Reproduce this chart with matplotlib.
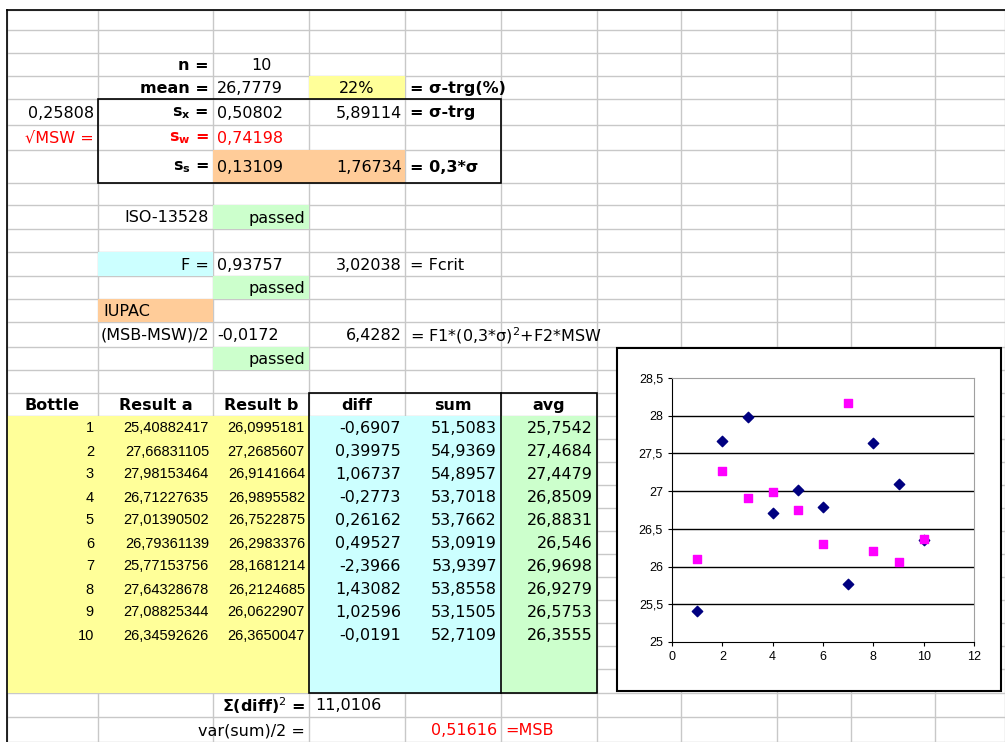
import matplotlib
matplotlib.use('Agg')
import matplotlib.pyplot as plt
from matplotlib.patches import Rectangle

# ---------------- data ----------------
bottles = [1, 2, 3, 4, 5, 6, 7, 8, 9, 10]
result_a = [25.40882417, 27.66831105, 27.98153464, 26.71227635, 27.01390502,
            26.79361139, 25.77153756, 27.64328678, 27.08825344, 26.34592626]
result_b = [26.0995181, 27.2685607, 26.9141664, 26.9895582, 26.7522875,
            26.2983376, 28.1681214, 26.2124685, 26.0622907, 26.3650047]
diff_txt = ['-0,6907', '0,39975', '1,06737', '-0,2773', '0,26162',
            '0,49527', '-2,3966', '1,43082', '1,02596', '-0,0191']
sum_txt = ['51,5083', '54,9369', '54,8957', '53,7018', '53,7662',
           '53,0919', '53,9397', '53,8558', '53,1505', '52,7109']
avg_txt = ['25,7542', '27,4684', '27,4479', '26,8509', '26,8831',
           '26,546', '26,9698', '26,9279', '26,5753', '26,3555']
y_ticks = [25, 25.5, 26, 26.5, 27, 27.5, 28, 28.5]
x_ticks = [0, 2, 4, 6, 8, 10, 12]

W, H = 1005, 742
cols = [7, 98, 213, 309, 405, 501, 597, 681, 777, 851, 935, 1005]
rows = [10, 30, 53, 76, 99, 125, 150, 183, 205, 229, 252, 276, 299, 322, 347,
        370, 393, 416, 439, 462, 485, 508, 531, 554, 577, 600, 623, 646, 669,
        693, 717, 742]

YEL, ORA, GRN, CYA = '#FFFF99', '#FFCC99', '#CCFFCC', '#CCFFFF'
RED = '#FF0000'
FONT = 'DejaVu Sans'
NARROW = ['Liberation Sans Narrow', 'Liberation Sans']

fig = plt.figure(figsize=(W / 100, H / 100), dpi=100)
ax = fig.add_axes([0, 0, 1, 1])
ax.set_xlim(0, W)
ax.set_ylim(H, 0)
ax.axis('off')


def fill(c0, c1, r0, r1, color):
    ax.add_patch(Rectangle((cols[c0], rows[r0]), cols[c1] - cols[c0],
                           rows[r1] - rows[r0], fc=color, ec='none', zorder=1))


def cy(r):
    return (rows[r] + rows[r + 1]) / 2


def txt(x, r, s, ha='left', color='black', bold=False, size=11.5, family=FONT):
    ax.text(x, cy(r) + 1, s, ha=ha, va='center', color=color, fontsize=size,
            fontweight='bold' if bold else 'normal', family=family, zorder=5)


# grid lines
for x in cols:
    ax.plot([x, x], [rows[0], H], color='#C8C8C8', lw=1, zorder=0)
for y in rows:
    ax.plot([cols[0], W], [y, y], color='#C8C8C8', lw=1, zorder=0)

# fills
fill(3, 4, 3, 4, YEL)
fill(2, 4, 6, 7, ORA)
fill(2, 3, 8, 9, GRN)
fill(1, 2, 10, 11, CYA)
fill(2, 3, 11, 12, GRN)
fill(1, 2, 12, 13, ORA)
fill(2, 3, 14, 15, GRN)
fill(0, 3, 17, 29, YEL)
fill(3, 5, 17, 29, CYA)
fill(5, 6, 17, 29, GRN)

# black borders
k = dict(color='black', lw=1.2, zorder=3)
ax.plot([cols[0], W], [rows[0], rows[0]], **k)
ax.plot([cols[0], cols[0]], [rows[0], H], **k)
ax.add_patch(Rectangle((cols[1], rows[4]), cols[5] - cols[1], rows[7] - rows[4],
                       fc='none', ec='black', lw=1.2, zorder=3))
ax.add_patch(Rectangle((cols[3], rows[16]), cols[6] - cols[3], rows[29] - rows[16],
                       fc='none', ec='black', lw=1.2, zorder=3))
ax.plot([cols[5], cols[5]], [rows[16], rows[29]], **k)

# upper block
txt(209, 2, 'n =', 'right', bold=True)
txt(261, 2, '10', 'center')
txt(209, 3, 'mean =', 'right', bold=True)
txt(217, 3, '26,7779')
txt(357, 3, '22%', 'center')
txt(410, 3, '= σ-trg(%)', bold=True)
txt(94, 4, '0,25808', 'right')
txt(209, 4, r'$\mathbf{s_x}$ =', 'right', bold=True)
txt(217, 4, '0,50802')
txt(402, 4, '5,89114', 'right')
txt(410, 4, '= σ-trg', bold=True)
txt(94, 5, '√MSW =', 'right', color=RED)
txt(209, 5, r'$\mathbf{s_w}$ =', 'right', color=RED, bold=True)
txt(217, 5, '0,74198', color=RED)
txt(209, 6, r'$\mathbf{s_s}$ =', 'right', bold=True)
txt(217, 6, '0,13109')
txt(402, 6, '1,76734', 'right')
txt(410, 6, '= 0,3*σ', bold=True)
txt(209, 8, 'ISO-13528', 'right')
txt(305, 8, 'passed', 'right')
txt(209, 10, 'F =', 'right')
txt(217, 10, '0,93757')
txt(402, 10, '3,02038', 'right')
txt(410, 10, '= Fcrit')
txt(305, 11, 'passed', 'right')
txt(103, 12, 'IUPAC')
txt(209, 13, '(MSB-MSW)/2', 'right')
txt(217, 13, '-0,0172')
txt(402, 13, '6,4282', 'right')
txt(410, 13, '= F1*(0,3*σ)$^2$+F2*MSW')
txt(305, 14, 'passed', 'right')

# table
heads = ['Bottle', 'Result a', 'Result b', 'diff', 'sum', 'avg']
for i, h in enumerate(heads):
    txt((cols[i] + cols[i + 1]) / 2, 16, h, 'center', bold=True)
for i in range(len(bottles)):
    r = 17 + i
    txt(94, r, str(bottles[i]), 'right', size=10.5, family=NARROW)
    txt(209, r, f'{result_a[i]:.8f}'.replace('.', ','), 'right', size=10.5, family=NARROW)
    txt(305, r, f'{result_b[i]:.7f}'.replace('.', ','), 'right', size=10.5, family=NARROW)
    txt(401, r, diff_txt[i], 'right')
    txt(497, r, sum_txt[i], 'right')
    txt(593, r, avg_txt[i], 'right')
txt(305, 29, 'Σ(diff)$^2$ =', 'right', bold=True)
txt(315, 29, '11,0106')
txt(305, 30, 'var(sum)/2 =', 'right')
txt(497, 30, '0,51616', 'right', color=RED)
txt(505, 30, '=MSB', color=RED)

# embedded chart
ax.add_patch(Rectangle((617, 348), 384, 343, fc='white', ec='black', lw=1.5, zorder=6))
cax = fig.add_axes([672 / W, 1 - 642 / H, (974 - 672) / W, (642 - 378) / H], zorder=10)
cax.set_xlim(0, 12)
cax.set_ylim(25, 28.5)
cax.set_xticks(x_ticks)
cax.set_yticks(y_ticks)
cax.set_yticklabels([str(v).replace('.', ',') for v in y_ticks])
for v in y_ticks[1:-1]:
    cax.axhline(v, color='black', lw=1, zorder=0)
cax.scatter(bottles, result_a, marker='D', s=28, color='#000080', zorder=3)
cax.scatter(bottles, result_b, marker='s', s=38, color='#FF00FF', zorder=3)
for s in ['top', 'right']:
    cax.spines[s].set_color('#A0A0A0')
cax.tick_params(labelsize=9, length=3, direction='out')
for lab in cax.get_xticklabels() + cax.get_yticklabels():
    lab.set_family('Liberation Sans')

fig.savefig('out.png', dpi=100)
